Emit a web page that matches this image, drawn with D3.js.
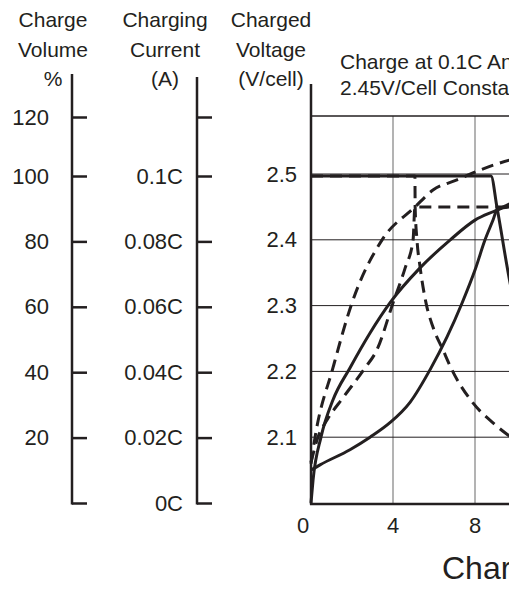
<!DOCTYPE html>
<html>
<head>
<meta charset="utf-8">
<script src="https://cdn.jsdelivr.net/npm/d3@7"></script>
<style>
  body { margin: 0; background: #fff; overflow: hidden; }
  svg { display: block; }
  text { font-family: "Liberation Sans", Arial, sans-serif; fill: #231f20; }
</style>
</head>
<body>
<div id="chart"></div>
<script>
// ---- data (hours on x) ----
const hourTicks = [0, 4, 8, 12, 16, 20, 24];
const pctTicks = [0, 20, 40, 60, 80, 100, 120];
const pctLabels = ["", "20", "40", "60", "80", "100", "120"];
const curTicks = [0, 0.02, 0.04, 0.06, 0.08, 0.1, 0.12];
const curLabels = ["0C", "0.02C", "0.04C", "0.06C", "0.08C", "0.1C", ""];
const voltTicks = [2.1, 2.2, 2.3, 2.4, 2.5];
const voltLabels = ["2.1", "2.2", "2.3", "2.4", "2.5"];

// solid = 100% discharged, dashed = 50% discharged
const solidCurrent = [[0, 0.1], [8.78, 0.1], [9.07, 0.0905], [9.66, 0.069], [10.3, 0.05],
  [11.5, 0.03], [13, 0.018], [16, 0.008], [20, 0.004]];
const dashedCurrent = [[0, 0.1], [5.07, 0.1], [5.08, 0.0905], [5.17, 0.0804], [5.32, 0.0722],
  [5.61, 0.0612], [5.95, 0.0538], [6.44, 0.0468], [6.83, 0.0413], [7.9, 0.0306],
  [8.88, 0.0245], [9.61, 0.0208], [12, 0.014], [16, 0.009], [24, 0.006]];
const solidVoltage = [[0, 2.05], [0.44, 2.058], [1.9, 2.081], [2.88, 2.1], [3.85, 2.122],
  [4.83, 2.153], [5.85, 2.205], [6.63, 2.252], [7.37, 2.304], [8.0, 2.354], [8.49, 2.4],
  [8.88, 2.43], [9.07, 2.445], [9.66, 2.45], [24, 2.45]];
const dashedVoltage = [[0, 2.062], [0.34, 2.1], [0.78, 2.126], [1.56, 2.16], [2.63, 2.205],
  [3.22, 2.233], [4.0, 2.304], [4.59, 2.357], [4.98, 2.4], [5.07, 2.45], [24, 2.45]];
const solidVolume = [[0, 0], [0.1, 7], [0.49, 20.2], [1.07, 31.5], [1.9, 41.3], [2.88, 52],
  [3.85, 61.2], [5.32, 71.9], [6.78, 80.4], [8.0, 86.5], [9.07, 89.6], [9.66, 91.4],
  [12, 97], [16, 102], [24, 105]];
const dashedVolume = [[0, 12], [0.2, 20.2], [1.07, 41.3], [2.0, 61.2], [3.46, 80.4],
  [5.07, 90.5], [5.95, 95.7], [7.12, 98.8], [8.24, 102], [9.7, 105.4], [12, 108],
  [16, 111], [24, 113]];

const w = 509;
const h = 590;
const ink = "#231f20";

const svg = d3.select("#chart").append("svg")
  .attr("width", w)
  .attr("height", h);

// scales (all three y axes share the same pixel range)
const x = d3.scaleLinear().domain([0, 24]).range([311, 803]);
const yPct = d3.scaleLinear().domain([0, 100, 120]).range([503, 176, 117]);
const yCur = d3.scaleLinear().domain([0, 0.1, 0.12]).range([503, 176, 117]);
const yVolt = d3.scaleLinear().domain([2.0, 2.5, 2.6]).range([503, 174, 116]);

// grid
svg.append("g")
  .selectAll("line")
  .data(hourTicks.slice(1))
  .enter()
  .append("line")
    .attr("x1", d => x(d)).attr("x2", d => x(d))
    .attr("y1", yVolt(2.6)).attr("y2", yVolt(2.0))
    .attr("stroke", "#8a8a8a")
    .attr("stroke-width", 1.3);

svg.append("g")
  .selectAll("line")
  .data(voltTicks.concat([2.6]))
  .enter()
  .append("line")
    .attr("x1", x(0)).attr("x2", w)
    .attr("y1", d => yVolt(d)).attr("y2", d => yVolt(d))
    .attr("stroke", ink)
    .attr("stroke-width", d => d === 2.6 ? 1.6 : 1);

// curves
const curves = [
  {data: solidCurrent, y: yCur, dash: null},
  {data: dashedCurrent, y: yCur, dash: "12,7"},
  {data: solidVoltage, y: yVolt, dash: null},
  {data: dashedVoltage, y: yVolt, dash: "12,7"},
  {data: solidVolume, y: yPct, dash: null},
  {data: dashedVolume, y: yPct, dash: "12,7"}
];

curves.forEach(c => {
  const line = d3.line()
    .x(d => x(d[0]))
    .y(d => c.y(d[1]))
    .curve(d3.curveMonotoneX);
  svg.append("path")
    .datum(c.data)
    .attr("d", line)
    .attr("fill", "none")
    .attr("stroke", ink)
    .attr("stroke-width", 3)
    .attr("stroke-dasharray", c.dash);
});

// left axes: line, ticks pointing right, labels on left
function sideAxis(xPos, scale, ticks, labels, pad, top, tickLen) {
  const g = svg.append("g").attr("transform", `translate(${xPos},0)`);
  const axis = d3.axisLeft(scale)
    .tickValues(ticks)
    .tickFormat((d, i) => labels[i])
    .tickSizeInner(-tickLen)
    .tickSizeOuter(0)
    .tickPadding(pad);
  g.call(axis);
  g.select(".domain").remove();
  g.selectAll(".tick line").attr("stroke", ink).attr("stroke-width", 2.5);
  g.selectAll(".tick text")
    .attr("font-size", 22)
    .attr("font-family", "Liberation Sans, Arial, sans-serif")
    .attr("fill", ink);
  g.append("line")
    .attr("x1", 0).attr("x2", 0)
    .attr("y1", top).attr("y2", 504.5)
    .attr("stroke", ink)
    .attr("stroke-width", 2.5);
  return g;
}

sideAxis(72, yPct, pctTicks, pctLabels, 23, 74, 15);
sideAxis(197, yCur, curTicks, curLabels, 14, 77, 15);
sideAxis(311, yVolt, voltTicks, voltLabels, 14, 84, 0);

// bottom axis
svg.append("line")
  .attr("x1", x(0) - 1).attr("x2", w)
  .attr("y1", 504).attr("y2", 504)
  .attr("stroke", ink)
  .attr("stroke-width", 2.5);

svg.append("g")
  .selectAll("text")
  .data(hourTicks)
  .enter()
  .append("text")
    .attr("x", d => x(d) - (d === 0 ? 8 : 0))
    .attr("y", 533)
    .attr("text-anchor", "middle")
    .attr("font-size", 22)
    .text(d => d);

svg.append("text")
  .attr("x", 442)
  .attr("y", 579)
  .attr("font-size", 32)
  .text("Charging Time (h)");

// axis titles
const titles = [
  {cx: 53, lines: ["Charge", "Volume", "%"]},
  {cx: 165, lines: ["Charging", "Current", "(A)"]},
  {cx: 271, lines: ["Charged", "Voltage", "(V/cell)"]}
];
titles.forEach(t => {
  svg.append("g")
    .selectAll("text")
    .data(t.lines)
    .enter()
    .append("text")
      .attr("x", t.cx)
      .attr("y", (d, i) => [27, 57, 86][i])
      .attr("text-anchor", "middle")
      .attr("font-size", 21)
      .text(d => d);
});

// chart title
svg.append("text").attr("x", 340).attr("y", 69).attr("font-size", 21)
  .text("Charge at 0.1C And");
svg.append("text").attr("x", 340).attr("y", 95).attr("font-size", 21)
  .text("2.45V/Cell Constant Voltage");
</script>
</body>
</html>
